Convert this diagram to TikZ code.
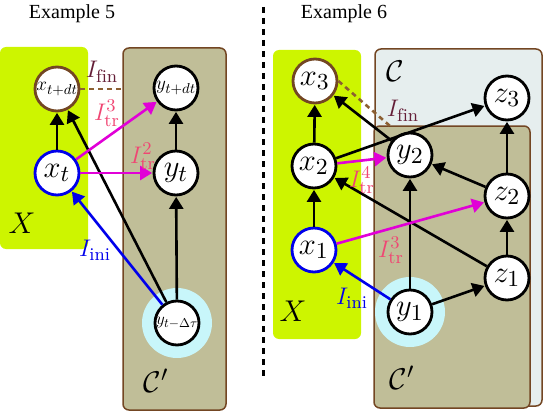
\documentclass[tikz,border=0pt]{standalone}
\usepackage{graphicx}
\usepackage{fontspec}
\newfontfamily\titlefont{Liberation Serif}
\usetikzlibrary{arrows.meta}
\DeclareMathSizes{12}{12}{9}{7}
\newcommand{\mthV}[1]{\scalebox{2.55}{\fontsize{12}{14}\selectfont$#1$}}
\newcommand{\mthS}[1]{\scalebox{1.6}{\fontsize{12}{14}\selectfont$#1$}}
\newcommand{\mthD}[1]{\scalebox{1.42}{\fontsize{12}{14}\selectfont$#1$}}
\newcommand{\mthL}[1]{\scalebox{2.0}{\fontsize{12}{14}\selectfont$#1$}}
\newcommand{\mthB}[1]{\scalebox{2.5}{\fontsize{12}{14}\selectfont$#1$}}
\definecolor{limeX}{RGB}{205,245,0}
\definecolor{tanC}{RGB}{192,190,152}
\definecolor{paleC}{RGB}{230,238,238}
\definecolor{haloC}{RGB}{200,246,250}
\definecolor{brownB}{RGB}{115,70,35}
\definecolor{brownD}{RGB}{140,95,50}
\definecolor{magE}{RGB}{225,0,215}
\definecolor{pinkL}{RGB}{240,70,115}
\definecolor{blueE}{RGB}{0,0,235}
\definecolor{finC}{RGB}{100,30,55}
\begin{document}
\begin{tikzpicture}[x=1pt,y=-1pt,
  vnode/.style={circle,draw=black,line width=2.8pt,fill=white,minimum size=44pt,inner sep=0pt},
  edge/.style={line width=2.6pt,-{Triangle[length=12pt,width=14pt]},shorten >=0.5pt},
  lbl/.style={inner sep=0pt},
  ttl/.style={inner sep=0pt,font=\titlefont\fontsize{20}{24}\selectfont},
  boxB/.style={draw=brownB,line width=1.5pt,rounded corners=6pt},
  dashB/.style={draw=brownD,line width=2.6pt,dash pattern=on 5pt off 4pt}
]
\useasboundingbox (0,0) rectangle (544,412);
% ---------------- Example 5 ----------------
\node[ttl] (t5) at (72,14) {Example 5};
\fill[limeX,rounded corners=6pt] (0,47) rectangle (88,249);
\path[boxB,fill=tanC] (123,48) rectangle (226,410);
\fill[haloC] (177,323) circle (35);
\node[vnode,draw=brownB] (xtd) at (57,89) {\mthS{x_{t+dt}}};
\node[vnode] (ytd) at (176,88) {\mthS{y_{t+dt}}};
\node[vnode,draw=blueE] (xt) at (57,173) {\mthV{x_t}};
\node[vnode] (yt) at (176,173) {\mthV{y_t}};
\node[vnode] (ydt) at (177,323) {\mthD{y_{t-\Delta\tau}}};
\coordinate (c5) at (123,89);
\draw[dashB] (xtd.east) -- (c5);
\draw[edge] (xt) -- (xtd);
\draw[edge] (yt) -- (ytd);
\draw[edge] (ydt) -- (yt);
\draw[edge] (ydt) -- (xtd);
\draw[edge,blueE] (ydt) -- (xt);
\draw[edge,magE] (xt) -- (ytd);
\draw[edge,magE] (xt) -- (yt);
\node[lbl,text=finC] (lf5) at (102,72) {\mthL{I_{\mathrm{fin}}}};
\node[lbl,text=pinkL] (l35) at (107,113) {\mthL{I^3_{\mathrm{tr}}}};
\node[lbl,text=pinkL] (l25) at (143,156) {\mthL{I^2_{\mathrm{tr}}}};
\node[lbl,text=blueE] (li5) at (95,250) {\mthL{I_{\mathrm{ini}}}};
\node[lbl] (X5) at (22,223) {\mthB{X}};
\node[lbl] (C5) at (156,381) {\mthB{\mathcal{C}'}};
% divider
\coordinate (d1) at (263,7);
\coordinate (d2) at (263,378);
\draw[line width=3pt,dash pattern=on 6pt off 5pt] (d1) -- (d2);
% ---------------- Example 6 ----------------
\node[ttl] (t6) at (344,14) {Example 6};
\fill[limeX,rounded corners=6pt] (273,50) rectangle (361,339);
\path[boxB,fill=paleC] (375,49) rectangle (542,406);
\path[boxB,fill=tanC] (374,126) rectangle (530,408);
\fill[haloC] (410,312) circle (35);
\node[vnode,draw=brownB] (x3) at (315,81) {\mthV{x_3}};
\node[vnode] (z3) at (507,98) {\mthV{z_3}};
\node[vnode] (x2) at (314,166) {\mthV{x_2}};
\node[vnode] (y2) at (410,155) {\mthV{y_2}};
\node[vnode] (z2) at (507,196) {\mthV{z_2}};
\node[vnode,draw=blueE] (x1) at (314,250) {\mthV{x_1}};
\node[vnode] (z1) at (507,278) {\mthV{z_1}};
\node[vnode] (y1) at (410,312) {\mthV{y_1}};
\coordinate (c6) at (390,126);
\draw[dashB] (x3.east) -- (c6);
\draw[edge] (x2) -- (x3);
\draw[edge] (x1) -- (x2);
\draw[edge] (y2) -- (x3);
\draw[edge] (x2) -- (z3);
\draw[edge] (z2) -- (z3);
\draw[edge] (z2) -- (y2);
\draw[edge] (y1) -- (y2);
\draw[edge] (z1) -- (x2);
\draw[edge] (z1) -- (z2);
\draw[edge] (y1) -- (z1);
\draw[edge,blueE] (y1) -- (x1);
\draw[edge,magE] (x2) -- (y2);
\draw[edge,magE] (x1) -- (z2);
\node[lbl] (C6) at (395,71) {\mthB{\mathcal{C}}};
\node[lbl,text=finC] (lf6) at (403,111) {\mthL{I_{\mathrm{fin}}}};
\node[lbl,text=pinkL] (l46) at (362,180) {\mthL{I^4_{\mathrm{tr}}}};
\node[lbl,text=pinkL] (l36) at (391,250) {\mthL{I^3_{\mathrm{tr}}}};
\node[lbl,text=blueE] (li6) at (352,298) {\mthL{I_{\mathrm{ini}}}};
\node[lbl] (X6) at (293,311) {\mthB{X}};
\node[lbl] (Cp6) at (402,378) {\mthB{\mathcal{C}'}};
\end{tikzpicture}
\end{document}
